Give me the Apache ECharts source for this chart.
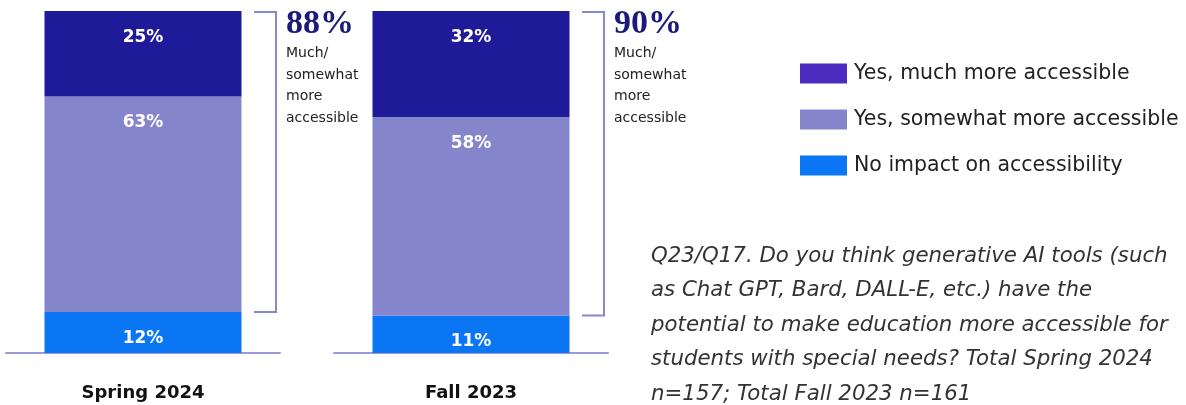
<!DOCTYPE html>
<html>
<head>
<meta charset="utf-8">
<script src="https://cdn.jsdelivr.net/npm/echarts@6/dist/echarts.min.js"></script>
<style>html,body{margin:0;padding:0;background:#fff;}#c{width:1186px;height:405px;}</style>
</head>
<body>
<div id="c"></div>
<script>
const categories = ['Spring 2024', 'Fall 2023'];
const muchMore = [25, 32];
const somewhatMore = [63, 58];
const noImpact = [12, 11];
const combinedTotals = [88, 90];
const scaleMax = 100;
const seriesNames = ['Yes, much more accessible', 'Yes, somewhat more accessible', 'No impact on accessibility'];
const bracketCaption = 'Much/\nsomewhat\nmore\naccessible';
const noteText = 'Q23/Q17. Do you think generative AI tools (such\nas Chat GPT, Bard, DALL-E, etc.) have the\npotential to make education more accessible for\nstudents with special needs? Total Spring 2024\nn=157; Total Fall 2023 n=161';

const barColors = { much: '#1f1b98', somewhat: '#8585cc', none: '#0a76f4' };
const legendMuchColor = '#4a2dc0';
const SANS = '"DejaVu Sans", "Noto Sans", sans-serif';

const chart = echarts.init(document.getElementById('c'), null, { renderer: 'canvas' });

const gridLefts = [6, 334];
const grids = [], xAxes = [], yAxes = [], series = [];
const labelCfg = {
  show: true, position: 'insideTop', distance: 18, formatter: '{c}%',
  color: '#fff', fontFamily: SANS, fontWeight: 'bold', fontSize: 17
};
categories.forEach((cat, i) => {
  grids.push({ left: gridLefts[i], width: 274, top: 11, bottom: 52 });
  xAxes.push({
    type: 'category', gridIndex: i, data: [cat],
    axisLine: { show: true, lineStyle: { color: '#9c9ad6', width: 2 } },
    axisTick: { show: false },
    axisLabel: { margin: 31, color: '#111', fontFamily: SANS, fontWeight: 'bold', fontSize: 18 }
  });
  yAxes.push({ type: 'value', gridIndex: i, min: 0, max: scaleMax, show: false, splitLine: { show: false } });
  const stack = 's' + i;
  series.push({ name: seriesNames[2], type: 'bar', xAxisIndex: i, yAxisIndex: i, stack, barWidth: 197,
    data: [noImpact[i]], itemStyle: { color: barColors.none }, label: labelCfg });
  series.push({ name: seriesNames[1], type: 'bar', xAxisIndex: i, yAxisIndex: i, stack, barWidth: 197,
    data: [somewhatMore[i]], itemStyle: { color: barColors.somewhat }, label: labelCfg });
  series.push({ name: seriesNames[0], type: 'bar', xAxisIndex: i, yAxisIndex: i, stack, barWidth: 197,
    data: [muchMore[i]], itemStyle: { color: barColors.much }, label: labelCfg });
  series.push({
    type: 'custom', xAxisIndex: i, yAxisIndex: i, clip: false, silent: true,
    data: [[0, noImpact[i], scaleMax, combinedTotals[i]]],
    renderItem: function (params, api) {
      const top = api.coord([api.value(0), api.value(2)]);
      const bot = api.coord([api.value(0), api.value(1)]);
      const cx = top[0];
      const x1 = cx + 111, x2 = cx + 133;
      return {
        type: 'group',
        children: [
          { type: 'polyline', shape: { points: [[x1, top[1] + 1], [x2, top[1] + 1], [x2, bot[1]], [x1, bot[1]]] },
            style: { stroke: '#8a88cc', lineWidth: 2, fill: null } },
          { type: 'text', x: cx + 143, y: top[1] - 4,
            style: { text: api.value(3) + '%', fill: '#1b1a7a', fontFamily: '"Liberation Serif", "DejaVu Serif", serif',
              fontWeight: 'bold', fontSize: 34, verticalAlign: 'top', align: 'left' } },
          { type: 'text', x: cx + 143, y: top[1] + 32,
            style: { text: bracketCaption, fill: '#222', fontFamily: SANS, fontSize: 14, lineHeight: 21.5,
              verticalAlign: 'top', align: 'left' } }
        ]
      };
    }
  });
});

chart.setOption({
  animation: false,
  backgroundColor: '#fff',
  grid: grids,
  xAxis: xAxes,
  yAxis: yAxes,
  legend: {
    orient: 'vertical', left: 795, top: 58, itemWidth: 47, itemHeight: 20, itemGap: 25,
    icon: 'rect', selectedMode: false,
    textStyle: { fontFamily: SANS, fontSize: 20.5, color: '#222', lineHeight: 20, padding: [0, 0, 0, 2] },
    data: [
      { name: seriesNames[0], itemStyle: { color: legendMuchColor } },
      { name: seriesNames[1], itemStyle: { color: barColors.somewhat } },
      { name: seriesNames[2], itemStyle: { color: barColors.none } }
    ]
  },
  title: {
    text: noteText, left: 646, top: 234,
    textStyle: { fontFamily: SANS, fontStyle: 'italic', fontWeight: 'normal', fontSize: 21.3, color: '#333', lineHeight: 34.5 }
  },
  series: series
});
</script>
</body>
</html>
